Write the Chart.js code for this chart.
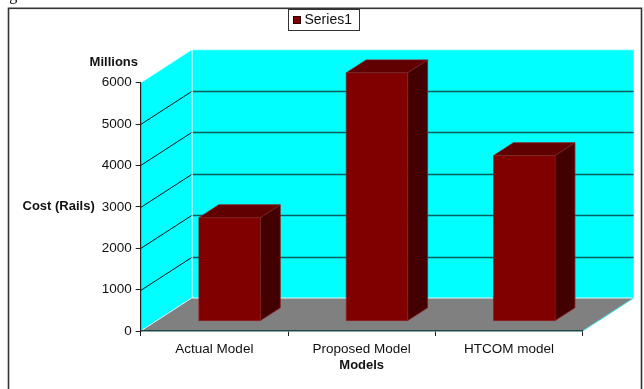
<!DOCTYPE html>
<html>
<head>
<meta charset="utf-8">
<script src="https://cdn.jsdelivr.net/npm/chart.js@4.4.1/dist/chart.umd.min.js"></script>
<style>
  html, body { margin: 0; padding: 0; background: #fff; }
  #wrap { position: relative; width: 644px; height: 389px; }
</style>
</head>
<body>
<div id="wrap"><canvas id="costChart" width="644" height="389"></canvas></div>
<script>
const models = ["Actual Model", "Proposed Model", "HTCOM model"];
const series1 = [2500, 6000, 4000];
const costTicks = [0, 1000, 2000, 3000, 4000, 5000, 6000];

// depth of the 3-D box, and where the columns sit inside it (0 = front, 1 = back)
const depth = { x: 51, y: -33 };
const colFront = 0.3, colBack = 0.69;

Chart.defaults.font.family = "'Liberation Sans', Arial, sans-serif";
Chart.defaults.font.size = 13.5;
Chart.defaults.color = "#111";

function poly(ctx, pts) {
  ctx.beginPath();
  ctx.moveTo(pts[0][0], pts[0][1]);
  for (let i = 1; i < pts.length; i++) ctx.lineTo(pts[i][0], pts[i][1]);
  ctx.closePath();
}

const box3d = {
  id: "box3d",
  beforeDraw(chart) {
    const ctx = chart.ctx, a = chart.chartArea, ys = chart.scales.y;
    const dx = depth.x, dy = depth.y;
    ctx.save();

    // side wall
    ctx.fillStyle = "#00ffff";
    poly(ctx, [[a.left, a.bottom], [a.left, a.top], [a.left + dx, a.top + dy], [a.left + dx, a.bottom + dy]]);
    ctx.fill();
    // back wall
    ctx.fillRect(a.left + dx, a.top + dy, a.right - a.left, a.bottom - a.top);
    // floor
    ctx.fillStyle = "#808080";
    poly(ctx, [[a.left, a.bottom], [a.right, a.bottom], [a.right + dx, a.bottom + dy], [a.left + dx, a.bottom + dy]]);
    ctx.fill();

    // gridlines: across the back wall and diagonally on the side wall
    ys.ticks.forEach(t => {
      if (t.value <= ys.min || t.value >= ys.max) return;
      const py = Math.round(ys.getPixelForValue(t.value)) + 0.5;
      ctx.strokeStyle = "#0b5e5e";
      ctx.lineWidth = 1.5;
      ctx.beginPath();
      ctx.moveTo(a.left + dx, py + dy);
      ctx.lineTo(a.right + dx, py + dy);
      ctx.stroke();
      ctx.strokeStyle = "#111";
      ctx.lineWidth = 1;
      ctx.beginPath();
      ctx.moveTo(a.left, py);
      ctx.lineTo(a.left + dx, py + dy);
      ctx.stroke();
    });

    // light edges of the walls and floor
    ctx.strokeStyle = "#d8ffff";
    ctx.lineWidth = 1;
    ctx.beginPath();
    ctx.moveTo(a.left, a.top);
    ctx.lineTo(a.left + dx, a.top + dy);
    ctx.lineTo(a.right + dx, a.top + dy);
    ctx.moveTo(a.left + dx + 0.5, a.top + dy);
    ctx.lineTo(a.left + dx + 0.5, a.bottom + dy);
    ctx.lineTo(a.right + dx, a.bottom + dy);
    ctx.moveTo(a.left, a.bottom);
    ctx.lineTo(a.left + dx, a.bottom + dy);
    ctx.stroke();
    ctx.strokeStyle = "#40e8e8";
    ctx.beginPath();
    ctx.moveTo(a.right, a.bottom);
    ctx.lineTo(a.right + dx, a.bottom + dy);
    ctx.stroke();
    ctx.restore();
  },
  beforeDatasetDraw() {
    return false; // columns are drawn as boxes below
  },
  afterDatasetsDraw(chart) {
    const ctx = chart.ctx;
    const meta = chart.getDatasetMeta(0);
    const fx = depth.x * colFront, fy = depth.y * colFront;
    const bx = depth.x * colBack, by = depth.y * colBack;
    ctx.save();
    meta.data.forEach(el => {
      const p = el.getProps(["x", "y", "base", "width"], true);
      const l = p.x - p.width / 2 + fx, r = p.x + p.width / 2 + fx;
      const t = p.y + fy, b = p.base + fy;
      const sx = bx - fx, sy = by - fy;
      // top
      ctx.fillStyle = "#600000";
      poly(ctx, [[l, t], [r, t], [r + sx, t + sy], [l + sx, t + sy]]);
      ctx.fill();
      // side
      ctx.fillStyle = "#420000";
      poly(ctx, [[r, t], [r + sx, t + sy], [r + sx, b + sy], [r, b]]);
      ctx.fill();
      // front
      ctx.fillStyle = "#800000";
      ctx.fillRect(l, t, r - l, b - t);
      ctx.strokeStyle = "#8e1a1a";
      ctx.lineWidth = 0.8;
      poly(ctx, [[l, b], [l, t], [l + sx, t + sy], [r + sx, t + sy], [r + sx, b + sy], [r, b]]);
      ctx.stroke();
      ctx.beginPath();
      ctx.moveTo(l, t); ctx.lineTo(r, t); ctx.lineTo(r + sx, t + sy);
      ctx.moveTo(r, t); ctx.lineTo(r, b);
      ctx.stroke();
    });
    ctx.restore();
  },
  afterDraw(chart) {
    const ctx = chart.ctx, a = chart.chartArea;
    ctx.save();
    // caption fragment above the frame
    ctx.fillStyle = "#000";
    ctx.font = "16px 'Liberation Serif', serif";
    ctx.textBaseline = "alphabetic";
    ctx.fillText("Fig", -4, -0.5);

    // outer frame
    ctx.strokeStyle = "#333";
    ctx.lineWidth = 1.6;
    ctx.strokeRect(8.5, 8.3, 633, 400);

    // axis titles
    ctx.fillStyle = "#111";
    ctx.font = "bold 13px 'Liberation Sans', Arial, sans-serif";
    ctx.textBaseline = "middle";
    ctx.textAlign = "right";
    ctx.fillText("Millions", 138, 62);
    ctx.textAlign = "left";
    ctx.fillText("Cost (Rails)", 22.5, (a.top + a.bottom) / 2);

    // legend
    const ds = chart.data.datasets[0];
    ctx.font = "14px 'Liberation Sans', Arial, sans-serif";
    const tw = ctx.measureText(ds.label).width;
    const bw = Math.round(tw + 24), bh = 21;
    const lx = Math.round(323 - bw / 2) + 0.5, ly = 9.5;
    ctx.fillStyle = "#fff";
    ctx.fillRect(lx, ly, bw, bh);
    ctx.strokeStyle = "#333";
    ctx.lineWidth = 1;
    ctx.strokeRect(lx, ly, bw, bh);
    ctx.fillStyle = ds.backgroundColor;
    ctx.fillRect(lx + 5, ly + 7, 7, 7);
    ctx.strokeStyle = "#300";
    ctx.strokeRect(lx + 5, ly + 7, 7, 7);
    ctx.fillStyle = "#111";
    ctx.textAlign = "left";
    ctx.fillText(ds.label, lx + 16, ly + bh / 2 + 0.5);
    ctx.restore();
  }
};

new Chart(document.getElementById("costChart"), {
  type: "bar",
  data: {
    labels: models,
    datasets: [{
      label: "Series1",
      data: series1,
      backgroundColor: "#800000",
      categoryPercentage: 1,
      barPercentage: 0.417
    }]
  },
  options: {
    responsive: false,
    animation: false,
    layout: { padding: { left: 0, top: 82.7, right: 61.3, bottom: 0 } },
    plugins: { legend: { display: false }, tooltip: { enabled: false } },
    scales: {
      x: {
        grid: { drawOnChartArea: false, tickLength: 5, color: "#222", offset: true },
        border: { color: "#1c4a4a", width: 1.5 },
        ticks: { padding: 5, color: "#111", maxRotation: 0 },
        title: {
          display: true, text: "Models", color: "#111",
          font: { weight: "bold", size: 13 }, padding: { top: 0, bottom: 16 }
        },
        afterFit(scale) { scale.height = 58; }
      },
      y: {
        min: costTicks[0],
        max: costTicks[costTicks.length - 1],
        afterBuildTicks(scale) { scale.ticks = costTicks.map(v => ({ value: v })); },
        grid: { drawOnChartArea: false, tickLength: 5, color: "#222" },
        border: { color: "#222", width: 1.2 },
        ticks: { padding: 4, color: "#111", callback: v => String(v) },
        afterFit(scale) { scale.width = 140.7; }
      }
    }
  },
  plugins: [box3d]
});
</script>
</body>
</html>
